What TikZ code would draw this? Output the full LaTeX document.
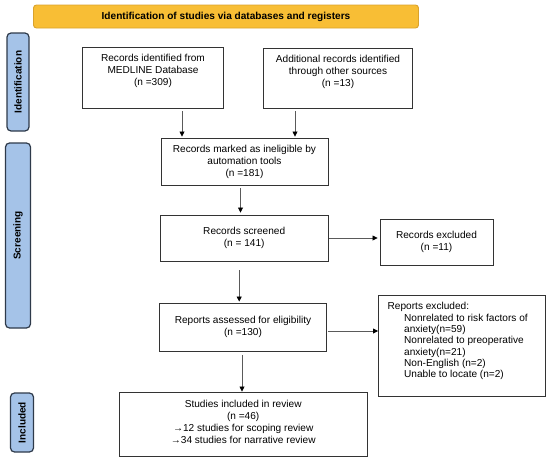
\documentclass[tikz,border=0pt]{standalone}
\usepackage{fontspec}
\setmainfont{Liberation Sans}
\usetikzlibrary{arrows.meta}
\definecolor{banfill}{HTML}{F8BE35}
\definecolor{bandraw}{HTML}{D9A22C}
\definecolor{sidefill}{HTML}{A5C3E8}
\definecolor{sidedraw}{HTML}{2E3A4A}
\definecolor{boxdraw}{HTML}{333333}
\definecolor{arrgray}{HTML}{5A5A5A}
\begin{document}
\begin{tikzpicture}[x=1pt,y=-1pt,
  font=\fontsize{10.1}{12}\selectfont,
  box/.style={draw=boxdraw, line width=0.9pt, inner sep=0pt, align=center},
  banner/.style={draw=bandraw, fill=banfill, line width=0.9pt, rounded corners=3pt, inner sep=0pt, font=\fontsize{10.1}{12}\selectfont\bfseries},
  side/.style={draw=sidedraw, fill=sidefill, line width=1.2pt, rounded corners=4pt, inner sep=0pt, rotate=90, font=\fontsize{10}{12}\selectfont\bfseries},
  txt/.style={inner sep=0pt, align=center},
  arr/.style={draw=arrgray, line width=0.75pt, -{Triangle[width=5pt,length=5pt,color=black]}}
]
\useasboundingbox (0,0) rectangle (550,466);

% banner and side labels
\node[banner, minimum width=385, minimum height=23] (ban) at (226,16.5) {Identification of studies via databases and registers};
\node[side, minimum width=98, minimum height=22] (sid) at (18,82) {Identification};
\node[side, minimum width=185, minimum height=25] (ssc) at (18,235.5) {Screening};
\node[side, minimum width=59, minimum height=23] (sin) at (22,422.5) {Included};

% identification
\node[box, minimum width=141, minimum height=61] (med) at (153,77.5) {};
\node[txt] (medt) at (153,71) {Records identified from\\MEDLINE Database\\(n =309)};
\node[box, minimum width=149, minimum height=60] (add) at (338,78) {};
\node[txt] (addt) at (338,72) {Additional records identified\\through other sources\\(n =13)};

% screening
\node[box, minimum width=167, minimum height=47] (inel) at (244.5,161.5) {Records marked as ineligible by\\automation tools\\(n =181)};
\node[box, minimum width=167.6, minimum height=46] (scr) at (244.2,238) {Records screened\\(n = 141)};
\node[box, minimum width=113, minimum height=45.5] (exc) at (436.5,242.25) {Records excluded\\(n =11)};
\node[box, minimum width=166.7, minimum height=48] (rep) at (243,327) {Reports assessed for eligibility\\(n =130)};
\node[box, minimum width=167, minimum height=101] (rexc) at (462,345.5) {};
\node[inner sep=0pt, anchor=north west, align=left, font=\fontsize{10.1}{11.35}\selectfont] (rexct) at (387.5,302.3)
 {Reports excluded:\\
  \hspace*{16.5pt}Nonrelated to risk factors of\\
  \hspace*{16.5pt}anxiety(n=59)\\
  \hspace*{16.5pt}Nonrelated to preoperative\\
  \hspace*{16.5pt}anxiety(n=21)\\
  \hspace*{16.5pt}Non-English (n=2)\\
  \hspace*{16.5pt}Unable to locate (n=2)};

% included
\node[box, minimum width=248.3, minimum height=64] (inc) at (243.2,424) {};
\node[txt] (inct) at (243.2,422) {Studies included in review\\(n =46)\\→12 studies for scoping review\\→34 studies for narrative review};

% connectors
\draw[arr] ([xshift=29pt,yshift=-3pt]med.south) -- ([xshift=29pt,yshift=1pt]med.south |- inel.north);
\draw[arr] ([xshift=-43pt,yshift=-3pt]add.south) -- ([xshift=-43pt,yshift=1pt]add.south |- inel.north);
\draw[arr] ([xshift=-4pt,yshift=-3pt]inel.south) -- ([xshift=-4pt,yshift=2pt]inel.south |- scr.north);
\draw[arr] ([xshift=1pt]scr.east) -- ([xshift=-2pt]scr.east -| exc.west);
\draw[arr] ([xshift=-5pt,yshift=-9pt]scr.south) -- ([xshift=-5pt,yshift=1pt]scr.south |- rep.north);
\draw[arr] ([xshift=1pt,yshift=-4pt]rep.east) -- ([yshift=-4pt]rep.east -| rexc.west);
\draw[arr] ([xshift=-1pt,yshift=-4pt]rep.south) -- ([xshift=-1pt]rep.south |- inc.north);
\end{tikzpicture}
\end{document}
